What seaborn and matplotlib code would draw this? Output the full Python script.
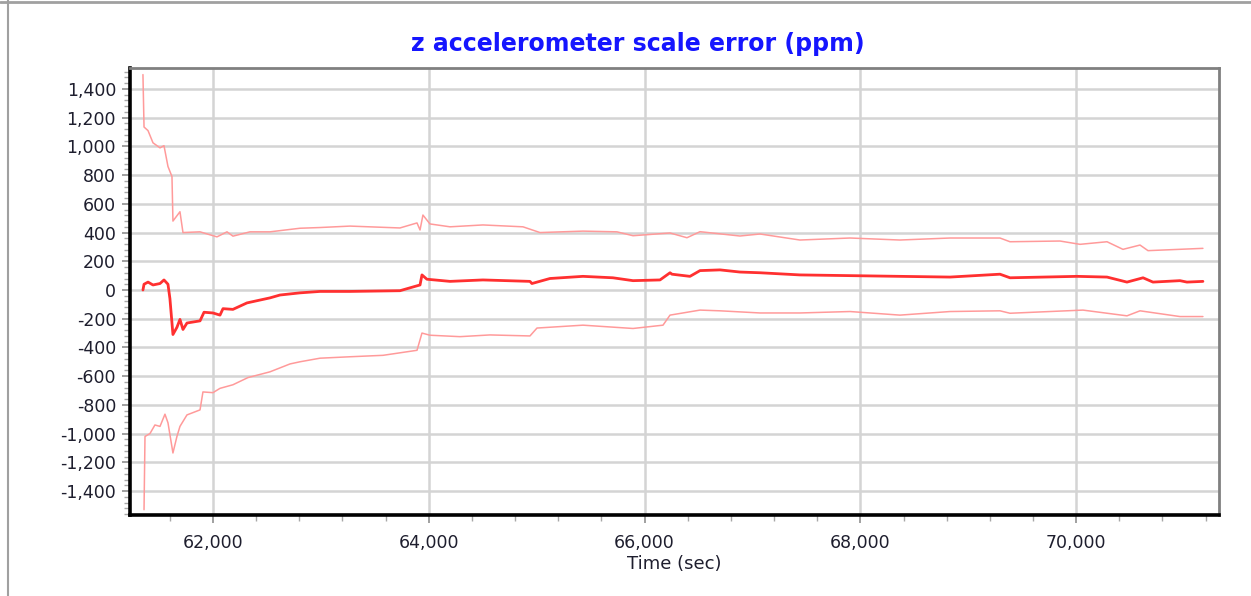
"""
z accelerometer scale error (ppm) vs time
- estimate (solid) with upper / lower bounds (light)
"""
import matplotlib
matplotlib.use("Agg")
import matplotlib.pyplot as plt
from matplotlib.ticker import MultipleLocator, FuncFormatter
from matplotlib.lines import Line2D
import seaborn as sns
import pandas as pd

# 1. Data
est_time = [61351, 61361, 61398, 61444, 61509, 61546, 61583, 61601, 61629, 61666,
            61694, 61722, 61759, 61880, 61917, 62000, 62065, 62093, 62185, 62315,
            62436, 62528, 62621, 62806, 62992, 63270, 63733, 63872, 63919, 63937,
            63983, 64197, 64502, 64938, 64956, 65123, 65429, 65707, 65893, 66143,
            66236, 66254, 66421, 66514, 66699, 66884, 67070, 67440, 67904, 68367,
            68831, 69294, 69387, 70008, 70286, 70471, 70620, 70712, 70962, 71027,
            71175]
est_ppm = [0, 40, 55, 35, 45, 70, 40, -60, -310, -260,
           -205, -275, -230, -215, -155, -160, -175, -130, -135, -90,
           -70, -55, -35, -20, -10, -10, -5, 25, 35, 105,
           75, 60, 70, 60, 45, 80, 95, 85, 65, 70,
           120, 110, 95, 135, 140, 125, 120, 105, 100, 95,
           90, 110, 85, 95, 90, 55, 85, 55, 65, 55,
           60]

upper_time = [61351, 61361, 61398, 61444, 61509, 61546, 61583, 61620, 61629, 61694,
              61722, 61880, 62037, 62130, 62185, 62343, 62528, 62806, 62992, 63270,
              63733, 63891, 63919, 63946, 64011, 64197, 64502, 64873, 65031, 65429,
              65744, 65893, 66236, 66393, 66514, 66884, 67070, 67440, 67904, 68367,
              68831, 69294, 69387, 69850, 70036, 70286, 70434, 70592, 70666, 71175]
upper_ppm = [1500, 1135, 1110, 1025, 990, 1005, 860, 790, 480, 545,
             400, 405, 370, 405, 375, 405, 405, 430, 435, 445,
             432, 467, 418, 522, 460, 440, 453, 440, 400, 410,
             405, 378, 397, 364, 406, 376, 390, 348, 362, 348,
             362, 362, 336, 341, 318, 336, 283, 313, 274, 290]

lower_time = [61361, 61370, 61416, 61462, 61509, 61555, 61583, 61629, 61666, 61694,
              61759, 61880, 61907, 62000, 62065, 62185, 62324, 62528, 62714, 62806,
              62992, 63270, 63576, 63891, 63937, 64011, 64289, 64567, 64938, 65003,
              65429, 65893, 66171, 66236, 66514, 66699, 67070, 67440, 67904, 68367,
              68831, 69294, 69387, 70063, 70471, 70592, 70962, 71175]
lower_ppm = [-1530, -1020, -1000, -940, -950, -865, -925, -1135, -1020, -950,
             -870, -835, -710, -715, -685, -660, -610, -570, -515, -500,
             -475, -465, -455, -420, -300, -315, -325, -313, -320, -265,
             -245, -268, -245, -175, -140, -145, -160, -160, -150, -175,
             -150, -145, -162, -140, -180, -145, -185, -185]

x_ticks = [62000, 64000, 66000, 68000, 70000]
y_ticks = list(range(-1400, 1401, 200))

TITLE = "z accelerometer scale error (ppm)"
XLABEL = "Time (sec)"


def comma(v, pos):
    return f"{int(round(v)):,}"


# 2. Plot
def plot_scale_error(outpath):
    sns.set_style("white")
    plt.rcParams["font.family"] = ["Verdana", "DejaVu Sans"]

    fig = plt.figure(figsize=(12.51, 5.96), dpi=100)
    ax = fig.add_axes([130 / 1251, 1 - 515 / 596, 1089 / 1251, 447 / 596])

    upper = pd.DataFrame({"t": upper_time, "v": upper_ppm})
    lower = pd.DataFrame({"t": lower_time, "v": lower_ppm})
    est = pd.DataFrame({"t": est_time, "v": est_ppm})

    sns.lineplot(data=upper, x="t", y="v", ax=ax, color="#ff9a9a", lw=1.1, sort=False, zorder=3)
    sns.lineplot(data=lower, x="t", y="v", ax=ax, color="#ff9a9a", lw=1.1, sort=False, zorder=3)
    sns.lineplot(data=est, x="t", y="v", ax=ax, color="#ff3030", lw=2.0, sort=False, zorder=4)

    ax.set_xlim(61231, 71324)
    ax.set_ylim(-1567, 1546)
    ax.set_xticks(x_ticks)
    ax.set_yticks(y_ticks)
    ax.xaxis.set_minor_locator(MultipleLocator(400))
    ax.yaxis.set_minor_locator(MultipleLocator(40))
    ax.xaxis.set_major_formatter(FuncFormatter(comma))
    ax.yaxis.set_major_formatter(FuncFormatter(comma))

    ax.grid(True, which="major", color="#d4d4d4", lw=1.8)
    ax.set_axisbelow(True)

    ax.tick_params(axis="both", which="both", left=True, bottom=True, direction="out")
    ax.tick_params(axis="both", which="major", length=6, width=1.2, color="#909090",
                   labelsize=12.5, labelcolor="#1e1e2e")
    ax.tick_params(axis="both", which="minor", length=4, width=1.0, color="#a8a8a8")
    ax.tick_params(axis="x", which="major", pad=8)
    ax.tick_params(axis="y", which="major", pad=4)

    for side in ("left", "bottom"):
        ax.spines[side].set_color("black")
        ax.spines[side].set_linewidth(2.6)
    for side in ("top", "right"):
        ax.spines[side].set_color("#808080")
        ax.spines[side].set_linewidth(2.0)

    ax.set_xlabel("")
    ax.set_ylabel("")
    fig.text((130 + 1219) / 2 / 1251, 1 - 564 / 596, XLABEL, ha="center", va="center",
             fontsize=13, color="#1e1e2e")
    fig.text(638 / 1251, 1 - 44 / 596, TITLE, ha="center", va="center",
             fontsize=17, fontweight="bold", color="#1515ff")

    # outer frame of the chart control
    fig.add_artist(Line2D([7.5 / 1251, 7.5 / 1251], [0, 1], transform=fig.transFigure,
                          color="#a0a0a0", lw=1.5))
    fig.add_artist(Line2D([0, 1], [1 - 1.5 / 596, 1 - 1.5 / 596], transform=fig.transFigure,
                          color="#a0a0a0", lw=2.0))

    fig.savefig(outpath, dpi=100)
    plt.close(fig)


if __name__ == "__main__":
    plot_scale_error("out.png")
